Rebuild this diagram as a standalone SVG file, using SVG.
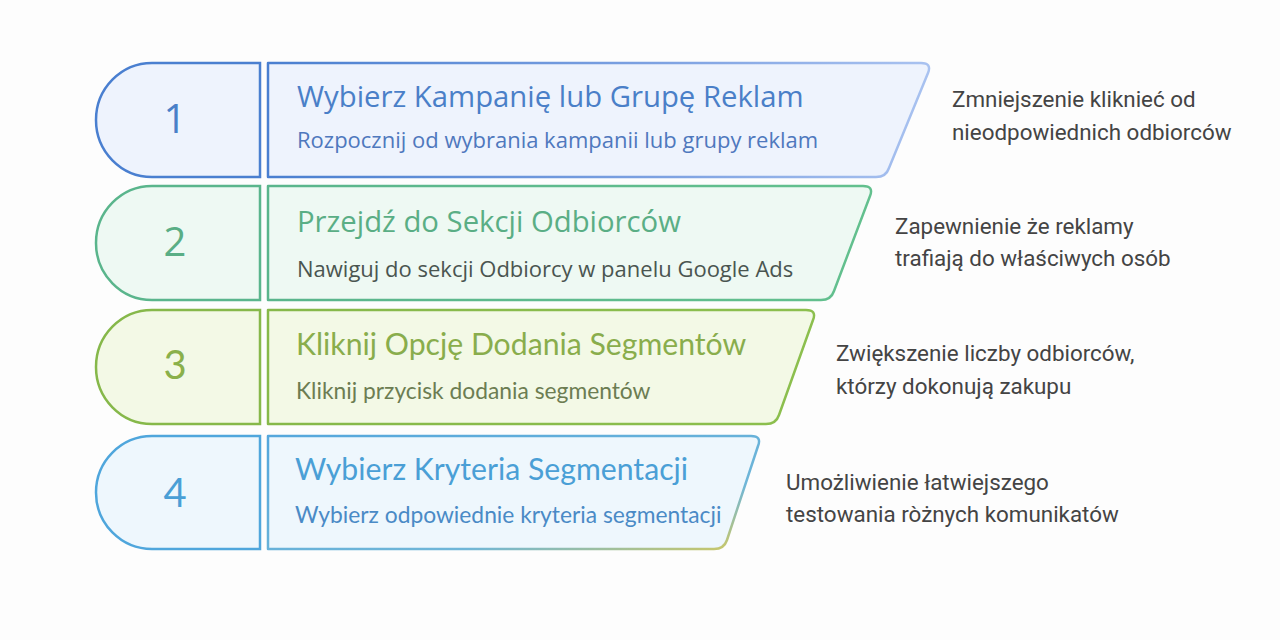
<svg xmlns="http://www.w3.org/2000/svg" width="1280" height="640" viewBox="0 0 1280 640">
<defs>
<style>
.pill{stroke-width:2.5}
.box{stroke-width:2.5;stroke-linejoin:round}
.num{font-family:"Open Sans","Noto Sans",sans-serif;font-size:40px;text-anchor:middle}
.num2{font-family:Lato,"Open Sans",sans-serif;font-size:40px;text-anchor:middle}
.t1{font-family:"Open Sans","Noto Sans",sans-serif;font-size:29.3px}
.s1{font-family:"Open Sans","Noto Sans",sans-serif;font-size:22px}
.t2{font-family:Lato,"Open Sans",sans-serif;font-size:30.2px}
.s2{font-family:Lato,"Open Sans",sans-serif;font-size:22.8px}
.side{font-family:Roboto,"Noto Sans",sans-serif;font-size:22.4px;fill:#444444}
</style>
<linearGradient id="g1" x1="0" y1="0" x2="1" y2="0"><stop offset="0" stop-color="#4a7fd0"/><stop offset="0.6" stop-color="#7ea2e2"/><stop offset="1" stop-color="#a9c2f0"/></linearGradient>
<linearGradient id="g2" x1="0" y1="0" x2="1" y2="0"><stop offset="0" stop-color="#5ab58c"/><stop offset="1" stop-color="#63c08e"/></linearGradient>
<linearGradient id="g3" x1="0" y1="0" x2="1" y2="0"><stop offset="0" stop-color="#86b84a"/><stop offset="1" stop-color="#8cbf4e"/></linearGradient>
<linearGradient id="g4" x1="0" y1="0" x2="1" y2="1"><stop offset="0" stop-color="#55a7dc"/><stop offset="0.7" stop-color="#6fb6d8"/><stop offset="1" stop-color="#d2c95e"/></linearGradient>
</defs>
<rect width="1280" height="640" fill="#fdfdfd"/>
<g id="connectors"/>

<g id="step1">
<path class="pill" d="M260,63 H152 A56,57 0 0 0 152,177 H260 Z" fill="#eef3fd" stroke="#4a7fd0"/>
<text class="num" x="175" y="133" fill="#4a7fc8">1</text>
<path class="box" d="M268,63 H921 Q932,63 928,73 L889,168 Q886,177 876,177 H268 Z" fill="#eef3fd" stroke="url(#g1)"/>
<text class="t1" x="297" y="107" fill="#4a7fc8">Wybierz Kampanię lub Grupę Reklam</text>
<text class="s1" x="297" y="148" fill="#4f78bd">Rozpocznij od wybrania kampanii lub grupy reklam</text>
<text class="side" x="952" y="107">Zmniejszenie kliknieć od</text>
<text class="side" x="952" y="140">nieodpowiednich odbiorców</text>
</g>

<g id="step2">
<path class="pill" d="M260,186 H152 A56,57 0 0 0 152,300 H260 Z" fill="#eef9f3" stroke="#5ab58c"/>
<text class="num" x="175" y="256" fill="#5aae85">2</text>
<path class="box" d="M268,186 H863 Q874,186 870,196 L834,291 Q831,300 821,300 H268 Z" fill="#eef9f3" stroke="url(#g2)"/>
<text class="t1" x="297" y="232" fill="#5aae85">Przejdź do Sekcji Odbiorców</text>
<text class="s1" x="297" y="277" fill="#4a5550">Nawiguj do sekcji Odbiorcy w panelu Google Ads</text>
<text class="side" x="895" y="234">Zapewnienie  że reklamy</text>
<text class="side" x="895" y="266">trafiają do właściwych osób</text>
</g>

<g id="step3">
<path class="pill" d="M260,310 H152 A56,57 0 0 0 152,424 H260 Z" fill="#f3f9e6" stroke="#86b84a"/>
<text class="num2" x="175" y="379" fill="#8ab04a">3</text>
<path class="box" d="M268,310 H806 Q817,310 813,320 L779,415 Q776,424 766,424 H268 Z" fill="#f3f9e6" stroke="url(#g3)"/>
<text class="t2" x="296" y="355" fill="#89ad4c">Kliknij Opcję Dodania Segmentów</text>
<text class="s2" x="296" y="399" fill="#6c7d52">Kliknij przycisk dodania segmentów</text>
<text class="side" x="836" y="361">Zwiększenie liczby odbiorców,</text>
<text class="side" x="836" y="394">którzy dokonują zakupu</text>
</g>

<g id="step4">
<path class="pill" d="M260,436 H152 A56,56.5 0 0 0 152,549 H260 Z" fill="#eef7fd" stroke="#4fa6dc"/>
<text class="num2" x="175" y="507" fill="#4a9fd6">4</text>
<path class="box" d="M268,436 H751 Q762,436 758,446 L727,540 Q724,549 714,549 H268 Z" fill="#eef7fd" stroke="url(#g4)"/>
<text class="t2" x="295" y="480" fill="#4a9fd6">Wybierz Kryteria Segmentacji</text>
<text class="s2" x="295" y="523" fill="#4a8ac6">Wybierz odpowiednie kryteria segmentacji</text>
<text class="side" x="786" y="490">Umożliwienie łatwiejszego</text>
<text class="side" x="786" y="522">testowania ròżnych komunikatów</text>
</g>
</svg>
